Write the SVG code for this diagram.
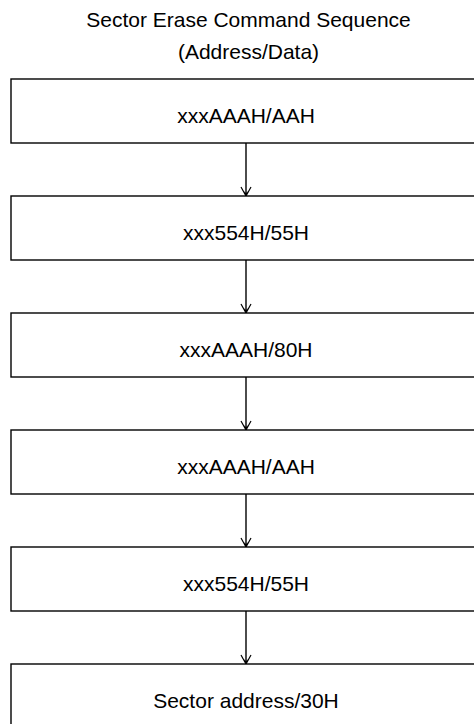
<svg xmlns="http://www.w3.org/2000/svg" width="474" height="724" viewBox="0 0 474 724">
<style>
text{font-family:"Liberation Sans",Arial,sans-serif;font-size:21px;fill:#000;text-anchor:middle}
.box{fill:#fff;stroke:#000;stroke-width:1.4}
.ln{stroke:#000;stroke-width:1.4;fill:none}
</style>
<defs>
<marker id="ah" viewBox="0 0 12 12" refX="11" refY="6" markerWidth="12" markerHeight="12" markerUnits="userSpaceOnUse" orient="auto">
<path d="M2,1 L11,6 L2,11" fill="none" stroke="#000" stroke-width="1.2"/>
<path d="M6,3.5 L11,6 L6,8.5 L8,6 Z" fill="#000"/>
</marker>
</defs>
<rect width="474" height="724" fill="#fff"/>
<g id="title">
<text x="248.5" y="27">Sector Erase Command Sequence</text>
<text x="248.5" y="59">(Address/Data)</text>
</g>
<g id="connectors">
<line class="ln" x1="246" y1="143" x2="246" y2="196" marker-end="url(#ah)"/>
<line class="ln" x1="246" y1="260" x2="246" y2="313" marker-end="url(#ah)"/>
<line class="ln" x1="246" y1="377" x2="246" y2="430" marker-end="url(#ah)"/>
<line class="ln" x1="246" y1="494" x2="246" y2="547" marker-end="url(#ah)"/>
<line class="ln" x1="246" y1="611" x2="246" y2="664" marker-end="url(#ah)"/>
</g>
<g id="step1"><rect class="box" x="11" y="79" width="480" height="64"/><text x="246" y="123">xxxAAAH/AAH</text></g>
<g id="step2"><rect class="box" x="11" y="196" width="480" height="64"/><text x="246" y="240">xxx554H/55H</text></g>
<g id="step3"><rect class="box" x="11" y="313" width="480" height="64"/><text x="246" y="357">xxxAAAH/80H</text></g>
<g id="step4"><rect class="box" x="11" y="430" width="480" height="64"/><text x="246" y="474">xxxAAAH/AAH</text></g>
<g id="step5"><rect class="box" x="11" y="547" width="480" height="64"/><text x="246" y="591">xxx554H/55H</text></g>
<g id="step6"><rect class="box" x="11" y="664" width="480" height="80"/><text x="246" y="708">Sector address/30H</text></g>
</svg>
